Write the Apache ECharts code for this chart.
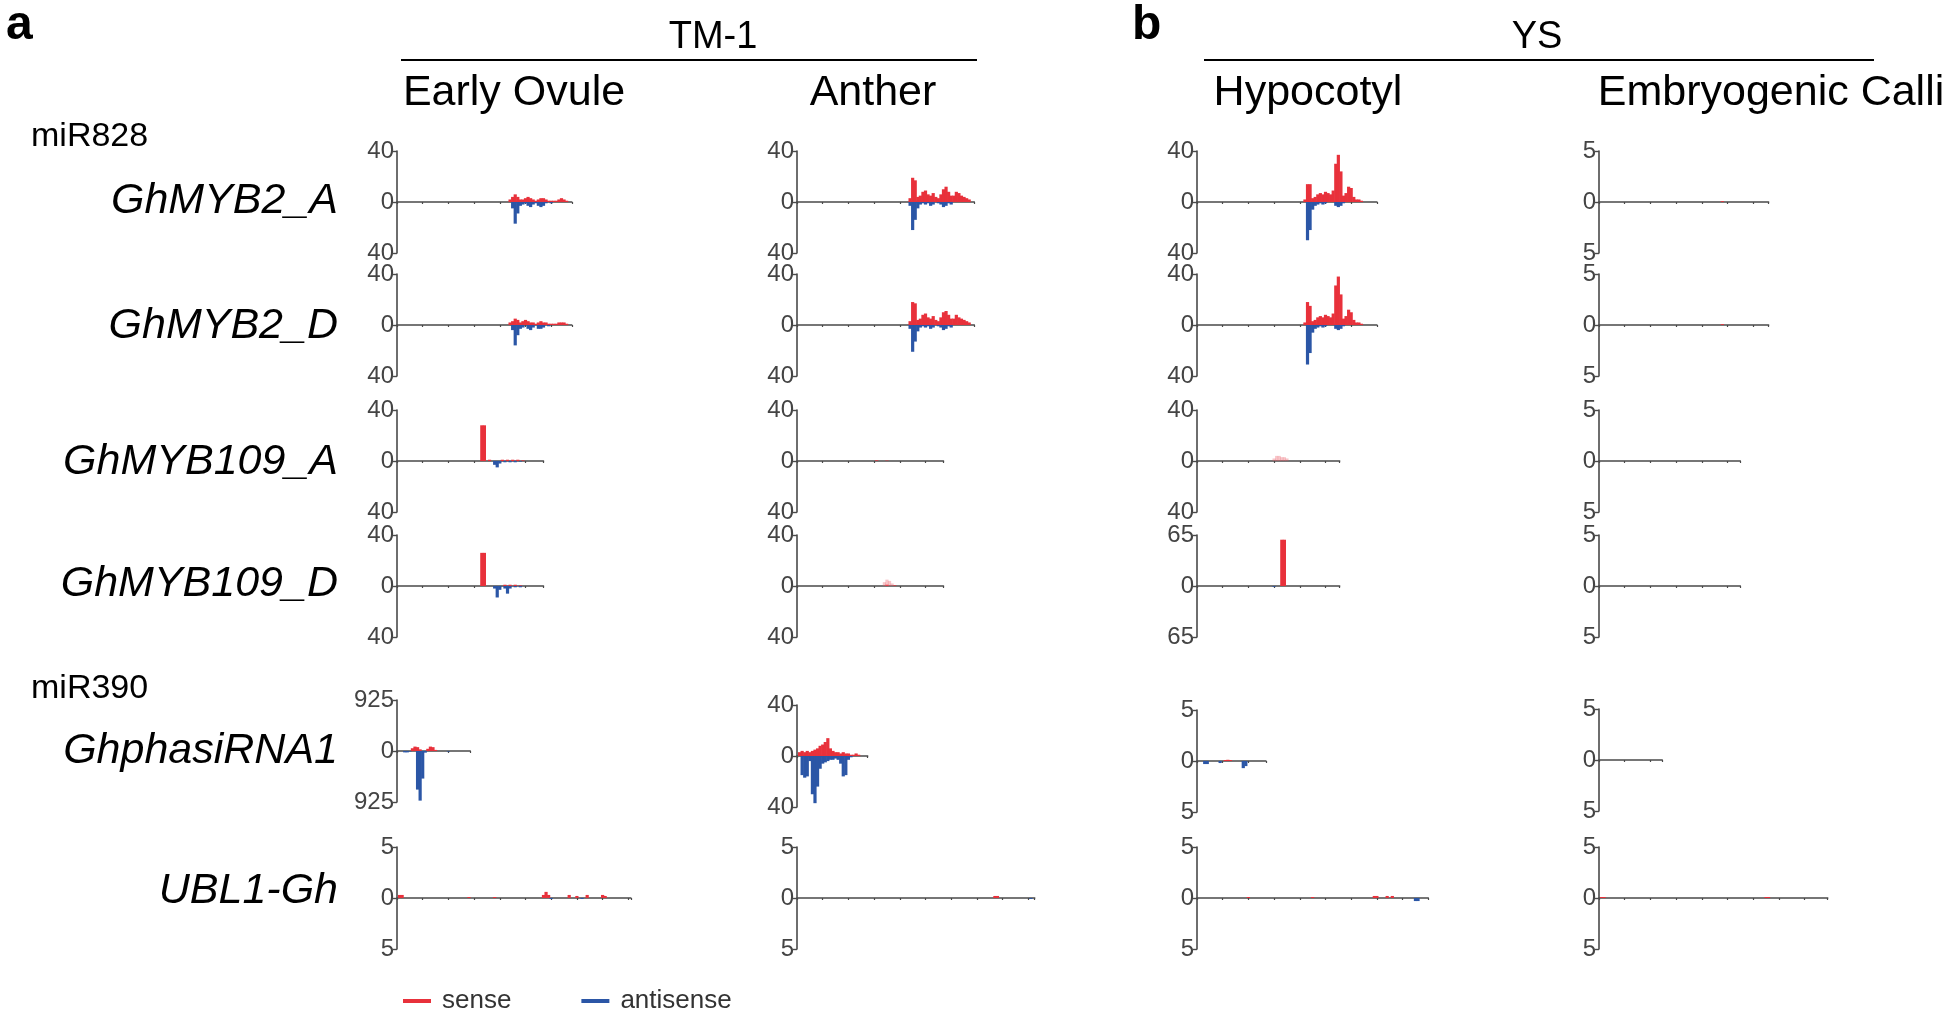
<!DOCTYPE html>
<html><head><meta charset="utf-8">
<script src="https://cdn.jsdelivr.net/npm/echarts@6/dist/echarts.min.js"></script>
<style>html,body{margin:0;padding:0;background:#fff}#c{width:1946px;height:1013px}</style>
</head><body><div id="c"></div>
<script>
// ---------- labels ----------
const groupLabels = ['TM-1', 'YS'];
const tissues = ['Early Ovule', 'Anther', 'Hypocotyl', 'Embryogenic Calli'];
const genes = ['GhMYB2_A', 'GhMYB2_D', 'GhMYB109_A', 'GhMYB109_D', 'GhphasiRNA1', 'UBL1-Gh'];
const mirnas = ['miR828', 'miR390'];
const seriesNames = ['sense', 'antisense'];

// y-axis scale (tick label value) per row x column
const scaleMax = [
  [40, 40, 40, 5],
  [40, 40, 40, 5],
  [40, 40, 40, 5],
  [40, 40, 65, 5],
  [925, 40, 5, 5],
  [5, 5, 5, 5]
];
// transcript length (nt) per row x column
const geneLength = [
  [680, 690, 700, 660],
  [680, 690, 700, 660],
  [570, 570, 555, 550],
  [570, 570, 555, 550],
  [285, 275, 268, 246],
  [910, 925, 900, 890]
];

// ---------- read counts: [position nt, reads] ----------
const ovule_MYB2A_sense = [[440,2],[450,4],[460,6],[470,4],[480,2],[490,2],[500,3],[510,4],[520,3],[530,2],[540,1],[550,2],[560,3],[570,3],[580,2],[590,1],[600,1],[610,1],[620,1],[630,2],[640,3],[650,2],[660,1]];
const ovule_MYB2A_anti = [[450,-5],[460,-17],[470,-9],[480,-3],[490,-2],[500,-1],[510,-3],[520,-4],[530,-2],[540,-1],[550,-3],[560,-4],[570,-3],[580,-1],[600,-1]];
const anther_MYB2A_sense = [[440,3],[450,19],[460,17],[470,4],[480,5],[490,8],[500,9],[510,6],[520,5],[530,7],[540,4],[550,3],[560,6],[570,10],[580,12],[590,8],[600,5],[610,5],[620,8],[630,7],[640,5],[650,4],[660,3],[670,2]];
const anther_MYB2A_anti = [[440,-3],[450,-22],[460,-14],[470,-5],[480,-2],[490,-1],[500,-2],[510,-1],[520,-3],[530,-2],[550,-1],[560,-2],[570,-4],[580,-3],[590,-1],[600,-2]];
const hypo_MYB2A_sense = [[420,2],[430,14],[440,14],[450,3],[460,4],[470,6],[480,7],[490,6],[500,8],[510,7],[520,6],[530,9],[540,30],[550,37],[560,24],[570,5],[580,7],[590,12],[600,11],[610,4],[620,2],[630,2],[640,1]];
const hypo_MYB2A_anti = [[430,-30],[440,-22],[450,-6],[460,-3],[470,-2],[480,-1],[490,-2],[500,-1],[540,-3],[550,-4],[560,-3],[570,-1]];
const calli_MYB2A_sense = [[480,0.08]];
const calli_MYB2A_anti = [];

const ovule_MYB2D_sense = [[440,2],[450,3],[460,5],[470,4],[480,2],[490,3],[500,4],[510,3],[520,2],[530,2],[540,1],[550,2],[560,3],[570,2],[580,2],[590,1],[600,1],[610,1],[620,1],[630,2],[640,2],[650,2],[660,1]];
const ovule_MYB2D_anti = [[450,-4],[460,-16],[470,-8],[480,-3],[490,-2],[510,-3],[520,-4],[530,-2],[550,-3],[560,-3],[570,-2],[590,-1]];
const anther_MYB2D_sense = [[440,3],[450,18],[460,17],[470,4],[480,5],[490,8],[500,9],[510,6],[520,5],[530,7],[540,4],[550,3],[560,6],[570,10],[580,11],[590,8],[600,5],[610,5],[620,8],[630,6],[640,5],[650,4],[660,3],[670,2]];
const anther_MYB2D_anti = [[440,-3],[450,-21],[460,-13],[470,-5],[480,-2],[490,-1],[500,-2],[510,-1],[520,-3],[530,-2],[550,-1],[560,-2],[570,-4],[580,-3],[590,-1],[600,-2]];
const hypo_MYB2D_sense = [[420,2],[430,18],[440,15],[450,3],[460,4],[470,6],[480,7],[490,6],[500,8],[510,7],[520,6],[530,9],[540,31],[550,38],[560,24],[570,5],[580,7],[590,12],[600,10],[610,4],[620,2],[630,2],[640,1]];
const hypo_MYB2D_anti = [[430,-31],[440,-22],[450,-6],[460,-3],[470,-2],[480,-1],[490,-2],[500,-1],[540,-3],[550,-4],[560,-3],[570,-1]];
const calli_MYB2D_sense = [[480,0.08]];
const calli_MYB2D_anti = [];

const ovule_MYB109A_sense = [[330,28],[340,28],[360,1],[410,1],[430,1],[450,1],[470,1],[490,0.5]];
const ovule_MYB109A_anti = [[380,-3],[390,-5],[400,-2],[420,-1],[440,-1],[460,-1],[480,-0.5]];
const anther_MYB109A_sense = [[310,0.5],[350,0.3]];
const anther_MYB109A_anti = [];
const hypo_MYB109A_faint = [[300,2],[310,4],[320,4],[330,3],[340,3],[350,2]];
const calli_MYB109A_sense = [];

const ovule_MYB109D_sense = [[330,26],[340,26],[420,1],[440,1],[460,1],[480,0.5]];
const ovule_MYB109D_anti = [[380,-2],[390,-9],[400,-3],[420,-2],[430,-6],[440,-2],[460,-1],[480,-1]];
const anther_MYB109D_sense = [[350,1],[380,0.5]];
const anther_MYB109D_faint = [[340,3],[350,5],[360,4],[370,2]];
const hypo_MYB109D_sense = [[330,59],[340,59]];
const hypo_MYB109D_anti = [[300,-1]];
const calli_MYB109D_sense = [];

const ovule_phasi_sense = [[60,50],[70,80],[80,70],[90,30],[120,40],[130,80],[140,70],[150,20]];
const ovule_phasi_anti = [[30,-25],[40,-25],[50,-10],[80,-700],[90,-900],[100,-500],[110,-30],[200,-10]];
const anther_phasi_sense = [[10,3],[20,4],[30,3],[40,4],[50,3],[60,4],[70,5],[80,6],[90,8],[100,9],[110,11],[120,14],[130,6],[140,4],[150,3],[160,3],[170,2],[180,3],[190,2],[200,2],[210,1],[220,1],[230,2],[240,1]];
const anther_phasi_anti = [[20,-15],[30,-17],[40,-16],[50,-4],[60,-30],[70,-37],[80,-24],[90,-10],[100,-6],[110,-5],[120,-4],[130,-3],[140,-3],[150,-2],[160,-3],[170,-6],[180,-16],[190,-15],[200,-3],[210,-1]];
const hypo_phasi_sense = [[110,0.1],[120,0.12],[130,0.1]];
const hypo_phasi_anti = [[30,-0.3],[40,-0.3],[90,-0.2],[180,-0.7],[190,-0.5]];
const calli_phasi_sense = [];

const ovule_UBL_sense = [[10,0.3],[20,0.3],[280,0.1],[380,0.1],[570,0.3],[580,0.6],[590,0.3],[670,0.3],[700,0.2],[740,0.3],[800,0.3],[810,0.2]];
const ovule_UBL_anti = [[600,-0.1],[720,-0.1]];
const anther_UBL_sense = [[770,0.2],[780,0.2]];
const anther_UBL_anti = [[910,-0.1]];
const hypo_UBL_sense = [[200,0.1],[450,0.1],[690,0.2],[700,0.2],[740,0.2],[760,0.2]];
const hypo_UBL_anti = [[850,-0.3],[860,-0.3]];
const calli_UBL_sense = [[10,0.1],[20,0.1],[650,0.1],[660,0.1]];
const none = [];

const senseData = [
  [ovule_MYB2A_sense, anther_MYB2A_sense, hypo_MYB2A_sense, calli_MYB2A_sense],
  [ovule_MYB2D_sense, anther_MYB2D_sense, hypo_MYB2D_sense, calli_MYB2D_sense],
  [ovule_MYB109A_sense, anther_MYB109A_sense, none, calli_MYB109A_sense],
  [ovule_MYB109D_sense, anther_MYB109D_sense, hypo_MYB109D_sense, calli_MYB109D_sense],
  [ovule_phasi_sense, anther_phasi_sense, hypo_phasi_sense, calli_phasi_sense],
  [ovule_UBL_sense, anther_UBL_sense, hypo_UBL_sense, calli_UBL_sense]
];
const antiData = [
  [ovule_MYB2A_anti, anther_MYB2A_anti, hypo_MYB2A_anti, calli_MYB2A_anti],
  [ovule_MYB2D_anti, anther_MYB2D_anti, hypo_MYB2D_anti, calli_MYB2D_anti],
  [ovule_MYB109A_anti, anther_MYB109A_anti, none, none],
  [ovule_MYB109D_anti, none, hypo_MYB109D_anti, none],
  [ovule_phasi_anti, anther_phasi_anti, hypo_phasi_anti, none],
  [ovule_UBL_anti, anther_UBL_anti, hypo_UBL_anti, none]
];
const faintData = [
  [none, none, none, none],
  [none, none, none, none],
  [none, none, hypo_MYB109A_faint, none],
  [none, anther_MYB109D_faint, none, none],
  [none, none, none, none],
  [none, none, none, none]
];

// ---------- layout ----------
const FONT = '"Liberation Sans", Arial, sans-serif';
const RED = '#e8313b', BLUE = '#2b56a6', FAINT = 'rgba(236,90,100,0.35)';
const colLeft = [397, 797, 1197, 1599];
const rowTop = [
  [151, 151, 151, 151],
  [274, 274, 274, 274],
  [410, 410, 410, 410],
  [535, 535, 535, 535],
  [700, 705, 710, 709],
  [847, 847, 847, 847]
];
const panelH = 102;
const pxPerNt = 0.257;

const grids = [], xAxes = [], yAxes = [], series = [];
let gi = 0;
for (let r = 0; r < 6; r++) {
  for (let c = 0; c < 4; c++) {
    const L = geneLength[r][c], M = scaleMax[r][c];
    grids.push({left: colLeft[c], top: rowTop[r][c], width: L * pxPerNt, height: panelH, containLabel: false});
    xAxes.push({
      gridIndex: gi, type: 'value', min: 0, max: L, interval: 100,
      axisLine: {onZero: true, lineStyle: {color: '#4a4a4a', width: 1.6}},
      axisTick: {show: true, length: 2, lineStyle: {color: '#4a4a4a', width: 1.2}},
      axisLabel: {show: false}, splitLine: {show: false}
    });
    yAxes.push({
      gridIndex: gi, type: 'value', min: -M, max: M, interval: M,
      axisLine: {show: true, lineStyle: {color: '#4a4a4a', width: 1.6}},
      axisTick: {show: true, length: 4, lineStyle: {color: '#4a4a4a', width: 1.4}},
      axisLabel: {show: true, color: '#444', fontSize: 24, fontFamily: FONT, margin: 3,
        formatter: v => String(Math.abs(v))},
      splitLine: {show: false}
    });
    const common = {type: 'bar', xAxisIndex: gi, yAxisIndex: gi, barWidth: 3.2, barGap: '-100%', silent: true, animation: false};
    series.push(Object.assign({}, common, {name: seriesNames[0], data: senseData[r][c], itemStyle: {color: RED}}));
    series.push(Object.assign({}, common, {name: seriesNames[1], data: antiData[r][c], itemStyle: {color: BLUE}}));
    series.push(Object.assign({}, common, {name: 'faint', data: faintData[r][c], itemStyle: {color: FAINT}}));
    gi++;
  }
}

const graphics = [];
function txt(t, x, y, size, opts) {
  graphics.push({type: 'text', x: x, y: y, silent: true,
    style: Object.assign({text: t, font: size + 'px ' + FONT, fill: '#000', textAlign: 'left', textVerticalAlign: 'middle'}, opts || {})});
}
txt('a', 6, 26, 48, {font: 'bold 48px ' + FONT});
txt('b', 1132, 26, 48, {font: 'bold 48px ' + FONT});
txt(groupLabels[0], 713, 38, 38, {textAlign: 'center'});
txt(groupLabels[1], 1537, 38, 38, {textAlign: 'center'});
graphics.push({type: 'line', silent: true, shape: {x1: 401, y1: 60, x2: 977, y2: 60}, style: {stroke: '#000', lineWidth: 2}});
graphics.push({type: 'line', silent: true, shape: {x1: 1204, y1: 60, x2: 1874, y2: 60}, style: {stroke: '#000', lineWidth: 2}});
const tissueX = [514, 873, 1308, 1771];
tissues.forEach((t, i) => txt(t, tissueX[i], 93, 43, {textAlign: 'center'}));
txt(mirnas[0], 31, 137, 34);
txt(mirnas[1], 31, 689, 34);
const geneY = [201, 326, 462, 584, 751, 891];
genes.forEach((g, i) => txt(g, 338, geneY[i], 43, {textAlign: 'right', font: 'italic 43px ' + FONT}));

const chart = echarts.init(document.getElementById('c'));
chart.setOption({
  animation: false,
  backgroundColor: '#fff',
  grid: grids, xAxis: xAxes, yAxis: yAxes, series: series,
  legend: {
    data: seriesNames, left: 398, top: 983, icon: 'rect', itemWidth: 28, itemHeight: 4, itemGap: 70,
    textStyle: {fontSize: 26, color: '#333', fontFamily: FONT, padding: [0, 0, 0, 6]}, selectedMode: false
  },
  graphic: graphics
});
</script>
</body></html>
